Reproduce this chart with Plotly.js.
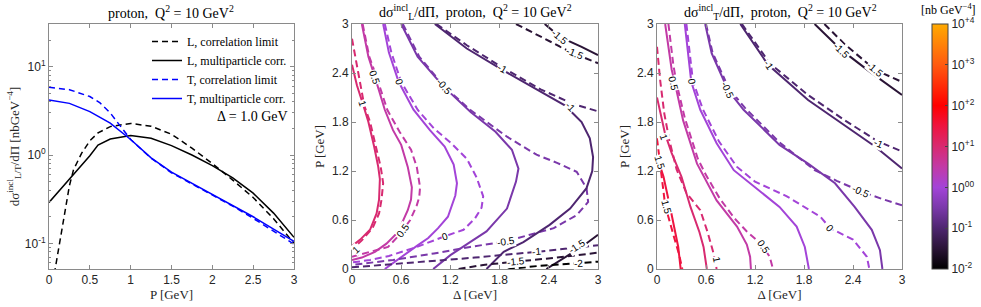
<!DOCTYPE html>
<html><head><meta charset="utf-8">
<script src="https://cdn.plot.ly/plotly-3.0.1.min.js"></script>
<style>html,body{margin:0;padding:0;background:#fff}#chart{width:981px;height:307px}</style>
</head><body><div id="chart"></div>
<script>
// ---------- Left panel data (Δ = 1.0 GeV) ----------
const P_L_multi = [0,0.25,0.5,0.6,0.75,1.0,1.25,1.5,1.75,2.0,2.25,2.5,2.75,3.0];
const L_multi   = [0.29,0.53,0.98,1.3,1.52,1.66,1.55,1.28,1.0,0.76,0.55,0.37,0.22,0.117];
const P_L_corr  = [0.065,0.1,0.15,0.2,0.25,0.3,0.4,0.5,0.6,0.75,1.0,1.25,1.5,1.75,2.0,2.25,2.5,2.75,3.0];
const L_corr    = [0.045,0.07,0.12,0.25,0.45,0.68,1.05,1.45,1.78,2.1,2.28,2.12,1.72,1.2,0.8,0.52,0.33,0.19,0.1];
const P_T_multi = [0,0.25,0.5,0.75,1.0,1.25,1.5,1.75,2.0,2.25,2.5,2.75,3.0];
const T_multi   = [4.2,3.85,3.1,2.3,1.5,0.93,0.64,0.48,0.36,0.268,0.2,0.145,0.105];
const P_T_corr  = [0,0.25,0.5,0.625,0.75,0.875,1.0,1.25,1.5,1.75,2.0,2.25,2.5,2.75,3.0];
const T_corr    = [5.85,5.5,4.6,3.9,3.0,2.1,1.5,0.92,0.63,0.47,0.355,0.264,0.192,0.138,0.098];
const legendNames = ['L, correlation limit','L, multiparticle corr.','T, correlation limit','T, multiparticle corr.'];

// ---------- Middle panel contours: [Δ values], [P values], level = log10(dσ_L/dΠ) ----------
const mL_s1_D  = [0,0.06,0.13,0.2,0.27,0.32,0.34,0.33,0.3,0.22,0.1,0];
const mL_s1_P  = [2.5,2.25,2.03,1.8,1.5,1.25,1.1,0.85,0.68,0.48,0.36,0.28];
const mL_d1_D  = [0,0.05,0.1,0.15,0.22,0.29,0.35,0.38,0.36,0.33,0.25,0.12,0];
const mL_d1_P  = [2.82,2.55,2.25,2.0,1.8,1.5,1.25,1.05,0.85,0.68,0.5,0.35,0.24];
const mL_s05_D = [0.12,0.2,0.28,0.4,0.5,0.6,0.68,0.73,0.72,0.68,0.56,0.42,0.28,0.12,0];
const mL_s05_P = [3.0,2.6,2.35,1.95,1.7,1.52,1.25,1.0,0.85,0.72,0.45,0.31,0.21,0.14,0.11];
const mL_d05_D = [0.13,0.21,0.3,0.43,0.58,0.72,0.79,0.83,0.82,0.79,0.71,0.58,0.44,0.2,0];
const mL_d05_P = [3.0,2.6,2.35,1.95,1.68,1.46,1.25,1.0,0.88,0.78,0.6,0.42,0.27,0.2,0.15];
const mL_s0_D  = [0.38,0.45,0.57,0.75,0.95,1.13,1.24,1.28,1.26,1.17,1.05,0.93,0.8,0.6,0.4];
const mL_s0_P  = [3.0,2.65,2.29,1.95,1.7,1.5,1.28,1.05,0.9,0.64,0.5,0.38,0.29,0.15,0];
const mL_d0_D  = [0.4,0.48,0.6,0.8,1.0,1.2,1.4,1.52,1.6,1.58,1.5,1.36,1.13,0.79,0.45,0.22,0];
const mL_d0_P  = [3.0,2.65,2.29,1.95,1.72,1.55,1.35,1.12,0.89,0.75,0.62,0.48,0.4,0.27,0.16,0.11,0.08];
const mL_sm05_D = [0.6,0.8,1.12,1.45,1.75,1.95,2.03,2.0,1.89,1.64,1.44,1.2,0.99];
const mL_sm05_P = [3.0,2.6,2.23,1.92,1.68,1.46,1.23,1.07,0.74,0.46,0.33,0.17,0];
const mL_dm05_D = [0.62,0.82,1.13,1.44,1.89,2.25,2.5,2.74,2.86,2.88,2.74,2.46,2.17,1.89,1.44,1.0,0.5,0];
const mL_dm05_P = [3.0,2.6,2.23,1.95,1.62,1.4,1.3,1.19,0.99,0.82,0.66,0.5,0.42,0.34,0.27,0.19,0.11,0.05];
const mL_sm1_D = [1.01,1.4,1.83,2.25,2.6,2.8,2.9,2.94,2.93,2.86,2.66,2.41,2.09,1.85,1.64];
const mL_sm1_P = [3.0,2.7,2.44,2.2,2.0,1.8,1.6,1.37,1.2,0.99,0.74,0.54,0.33,0.21,0];
const mL_dm1a_D = [1.03,1.4,1.83,2.3,2.7,3.0];
const mL_dm1a_P = [3.0,2.74,2.47,2.2,2.02,1.93];
const mL_dm1b_D = [0,0.8,1.5,2.25,3.0];
const mL_dm1b_P = [0.02,0.08,0.14,0.21,0.29];
const mL_sm15a_D = [2.35,2.54,2.8,3.0];
const mL_sm15a_P = [3.0,2.84,2.72,2.62];
const mL_dm15a_D = [2.0,2.35,2.7,3.0];
const mL_dm15a_P = [3.0,2.82,2.64,2.52];
const mL_sm15b_D = [2.37,2.6,2.8,3.0];
const mL_sm15b_P = [0,0.14,0.27,0.42];
const mL_dm15b_D = [1.3,1.6,2.0,2.5,3.0];
const mL_dm15b_P = [0,0.05,0.09,0.14,0.2];
const mL_dm2_D = [1.9,2.3,2.76,3.0];
const mL_dm2_P = [0.0,0.04,0.07,0.09];
const mL_labels_text = ['1','1','0.5','0.5','0','0','-0.5','-0.5','-1','-1','-1','-1.5','-1.5','-1.5','-1.5','-2'];
const mL_labels_D    = [0.13,0.05,0.28,0.62,0.57,1.13,1.12,1.88,1.83,2.66,2.25,2.54,2.72,2.0,2.74,2.76];
const mL_labels_P    = [2.03,0.24,2.35,0.47,2.29,0.40,2.23,0.34,2.46,1.99,0.21,2.84,2.64,0.09,0.28,0.07];

// ---------- Right panel contours (dσ_T/dΠ) ----------
const rT_s15_D = [0,0.04,0.08,0.16,0.26,0.29];
const rT_s15_P = [1.38,1.25,1.13,0.76,0.27,0];
const rT_d15_D = [0,0.05,0.1,0.2,0.27,0.31];
const rT_d15_P = [1.6,1.2,0.78,0.42,0.18,0];
const rT_s1_D  = [0,0.05,0.1,0.18,0.3,0.41,0.52,0.57,0.61];
const rT_s1_P  = [2.1,1.88,1.65,1.42,1.13,0.76,0.45,0.27,0];
const rT_d1_D  = [0,0.04,0.09,0.15,0.24,0.36,0.53,0.62,0.69,0.73];
const rT_d1_P  = [2.72,2.3,1.9,1.58,1.22,0.93,0.72,0.45,0.2,0];
const rT_s05_D = [0.1,0.18,0.22,0.32,0.49,0.73,0.98,1.1,1.14,1.15];
const rT_s05_P = [3.0,2.44,2.27,1.82,1.29,0.84,0.52,0.3,0.15,0];
const rT_d05_D = [0.14,0.2,0.24,0.34,0.5,0.6,0.77,0.95,1.1,1.28,1.38,1.42];
const rT_d05_P = [3.0,2.5,2.27,1.85,1.35,1.15,0.86,0.62,0.46,0.3,0.15,0];
const rT_s0_D  = [0.34,0.42,0.53,0.73,0.94,1.14,1.5,1.71,1.81,1.86];
const rT_s0_P  = [3.0,2.29,1.95,1.54,1.21,1.05,0.76,0.52,0.27,0];
const rT_d0_D  = [0.36,0.44,0.56,0.76,0.98,1.2,1.59,2.0,2.12,2.4,2.57,2.6];
const rT_d0_P  = [3.0,2.3,1.96,1.56,1.25,1.07,0.89,0.64,0.5,0.36,0.15,0];
const rT_sm05_D = [0.59,0.67,0.87,1.06,1.5,1.85,2.18,2.42,2.63,2.73,2.76];
const rT_sm05_P = [3.0,2.64,2.19,1.95,1.52,1.29,1.05,0.76,0.48,0.23,0];
const rT_dm05_D = [0.6,0.68,0.88,1.08,1.5,1.93,2.2,2.5,2.75,3.0];
const rT_dm05_P = [3.0,2.65,2.21,1.97,1.55,1.21,1.08,0.95,0.86,0.78];
const rT_sm1_D = [1.02,1.36,1.85,2.26,2.67,3.0];
const rT_sm1_P = [3.0,2.5,2.07,1.78,1.5,1.23];
const rT_dm1_D = [1.04,1.38,1.85,2.3,2.71,3.0];
const rT_dm1_P = [3.0,2.52,2.13,1.82,1.56,1.44];
const rT_sm15_D = [1.93,2.26,2.6,3.0];
const rT_sm15_P = [3.0,2.68,2.42,2.13];
const rT_dm15_D = [2.05,2.3,2.67,3.0];
const rT_dm15_P = [3.0,2.75,2.44,2.29];
const rT_labels_text = ['1.5','1.5','1','1','0.5','0.5','0','0','-0.5','-0.5','-1','-1','-1.5','-1.5'];
const rT_labels_D    = [0.03,0.11,0.08,0.74,0.2,1.3,0.42,2.12,0.87,2.5,1.36,2.71,2.26,2.67];
const rT_labels_P    = [1.3,0.76,1.62,0.11,2.27,0.27,2.29,0.5,2.19,0.95,2.5,1.54,2.68,2.44];

// colour bar
const cbTickVals = [-2,-1,0,1,2,3,4];
const cbTickText = ['10<sup>-2</sup>','10<sup>-1</sup>','10<sup>00</sup>','10<sup>+1</sup>','10<sup>+2</sup>','10<sup>+3</sup>','10<sup>+4</sup>'];

// ---------- styling ----------
const CMIN = -2, CMAX = 4;
const cscale = [[0,'#000000'],[0.083,'#2a1436'],[0.167,'#4e2670'],[0.25,'#7a38aa'],[0.333,'#a344d8'],
  [0.417,'#c23aa6'],[0.5,'#d82a70'],[0.583,'#ee1440'],[0.667,'#ff0000'],[0.833,'#ff5a10'],[1,'#ffaa00']];
function hex2rgb(h){return [parseInt(h.slice(1,3),16),parseInt(h.slice(3,5),16),parseInt(h.slice(5,7),16)];}
function levelColor(v){
  const f=(v-CMIN)/(CMAX-CMIN);
  for(let i=0;i<cscale.length-1;i++){
    const a=cscale[i],b=cscale[i+1];
    if(f>=a[0]&&f<=b[0]){const t=(f-a[0])/(b[0]-a[0]);const ca=hex2rgb(a[1]),cb=hex2rgb(b[1]);
      return 'rgb('+ca.map((c,k)=>Math.round(c+(cb[k]-c)*t)).join(',')+')';}
  }
  return cscale[cscale.length-1][1];
}
const SANS='Liberation Sans, Arial, sans-serif', SERIF='Liberation Serif, Times New Roman, serif';
const AXC='#8a8a8a', TXC='#262626';
const W=981,H=307;
const yDom=[1-269/H,1-24/H];
const traces=[];
const annotations=[];

// left panel
traces.push({x:P_L_corr,y:L_corr,name:legendNames[0],mode:'lines',line:{color:'#000',width:1.5,dash:'6px,4px'},xaxis:'x',yaxis:'y'});
traces.push({x:P_L_multi,y:L_multi,name:legendNames[1],mode:'lines',line:{color:'#000',width:1.5},xaxis:'x',yaxis:'y'});
traces.push({x:P_T_corr,y:T_corr,name:legendNames[2],mode:'lines',line:{color:'#0000ff',width:1.5,dash:'6px,4px'},xaxis:'x',yaxis:'y'});
traces.push({x:P_T_multi,y:T_multi,name:legendNames[3],mode:'lines',line:{color:'#0000ff',width:1.5},xaxis:'x',yaxis:'y'});

// contour lines
const midLines=[
 [mL_s1_D,mL_s1_P,1,0],[mL_d1_D,mL_d1_P,1,1],[mL_s05_D,mL_s05_P,0.5,0],[mL_d05_D,mL_d05_P,0.5,1],
 [mL_s0_D,mL_s0_P,0,0],[mL_d0_D,mL_d0_P,0,1],[mL_sm05_D,mL_sm05_P,-0.5,0],[mL_dm05_D,mL_dm05_P,-0.5,1],
 [mL_sm1_D,mL_sm1_P,-1,0],[mL_dm1a_D,mL_dm1a_P,-1,1],[mL_dm1b_D,mL_dm1b_P,-1,1],
 [mL_sm15a_D,mL_sm15a_P,-1.5,0],[mL_dm15a_D,mL_dm15a_P,-1.5,1],[mL_sm15b_D,mL_sm15b_P,-1.5,0],
 [mL_dm15b_D,mL_dm15b_P,-1.5,1],[mL_dm2_D,mL_dm2_P,-2,1]];
const rightLines=[
 [rT_s15_D,rT_s15_P,1.5,0],[rT_d15_D,rT_d15_P,1.5,1],[rT_s1_D,rT_s1_P,1,0],[rT_d1_D,rT_d1_P,1,1],
 [rT_s05_D,rT_s05_P,0.5,0],[rT_d05_D,rT_d05_P,0.5,1],[rT_s0_D,rT_s0_P,0,0],[rT_d0_D,rT_d0_P,0,1],
 [rT_sm05_D,rT_sm05_P,-0.5,0],[rT_dm05_D,rT_dm05_P,-0.5,1],[rT_sm1_D,rT_sm1_P,-1,0],[rT_dm1_D,rT_dm1_P,-1,1],
 [rT_sm15_D,rT_sm15_P,-1.5,0],[rT_dm15_D,rT_dm15_P,-1.5,1]];
function addLines(lines,xa,ya){
  lines.forEach(l=>{
    traces.push({x:l[0],y:l[1],mode:'lines',xaxis:xa,yaxis:ya,showlegend:false,hoverinfo:'skip',
      line:{color:levelColor(l[2]),width:2,dash:l[3]?'7px,4px':'solid'}});
  });
}
addLines(midLines,'x2','y2');
addLines(rightLines,'x3','y3');

function addLabels(texts,Ds,Ps,lines,xr,yr){
  texts.forEach((t,i)=>{
    const lv=parseFloat(t), x=Ds[i], y=Ps[i];
    let best=1e9, ang=0;
    lines.filter(l=>l[2]===lv).forEach(l=>{
      for(let k=0;k<l[0].length-1;k++){
        const x1=l[0][k],y1=l[1][k],x2=l[0][k+1],y2=l[1][k+1];
        const dx=x2-x1,dy=y2-y1,L2=dx*dx+dy*dy||1e-9;
        let u=((x-x1)*dx+(y-y1)*dy)/L2; u=Math.max(0,Math.min(1,u));
        const px=x1+u*dx-x, py=y1+u*dy-y, d=px*px+py*py;
        if(d<best){best=d; ang=Math.atan2(-dy,dx)*180/Math.PI;}
      }
    });
    if(ang>90)ang-=180; if(ang<-90)ang+=180;
    annotations.push({x:x,y:y,xref:xr,yref:yr,text:t,showarrow:false,textangle:ang,
      xanchor:'center',yanchor:'middle',
      font:{family:SANS,size:10,color:'#000'},bgcolor:'#fff',borderpad:0});
  });
}
addLabels(mL_labels_text,mL_labels_D,mL_labels_P,midLines,'x2','y2');
addLabels(rT_labels_text,rT_labels_D,rT_labels_P,rightLines,'x3','y3');

// colour bar carrier
traces.push({x:[-10],y:[-10],xaxis:'x3',yaxis:'y3',mode:'markers',showlegend:false,hoverinfo:'skip',
  marker:{size:1,color:[0],cmin:CMIN,cmax:CMAX,colorscale:cscale,showscale:true,
    colorbar:{x:932/W,xanchor:'left',xref:'paper',y:(yDom[0]+yDom[1])/2,yanchor:'middle',
      len:245/H,lenmode:'fraction',thickness:16,thicknessmode:'pixels',xpad:0,ypad:0,
      outlinewidth:1,outlinecolor:'#444',tickmode:'array',tickvals:cbTickVals,ticktext:cbTickText,
      ticks:'inside',ticklen:3,tickcolor:'#444',tickfont:{family:SANS,size:12,color:TXC}}}});

function linAxis(dom,tv,tt,anchor){
  return {domain:dom,range:[0,3],tickmode:'array',tickvals:tv,ticktext:tt,ticks:'inside',ticklen:4,
    tickcolor:AXC,showline:true,linecolor:AXC,linewidth:1,mirror:'ticks',showgrid:false,zeroline:false,
    anchor:anchor,tickfont:{family:SANS,size:12,color:TXC},fixedrange:true};
}
const t6=[0,0.6,1.2,1.8,2.4,3], t6t=['0','0.6','1.2','1.8','2.4','3'];
const t5=[0,0.5,1,1.5,2,2.5,3], t5t=['0','0.5','1','1.5','2','2.5','3'];
const xa1=linAxis([49/W,294/W],t5,t5t,'y'); xa1.title={text:'P [GeV]',font:{family:SERIF,size:13,color:TXC},standoff:2};
const xa2=linAxis([352/W,598/W],t6,t6t,'y2'); xa2.title={text:'Δ [GeV]',font:{family:SERIF,size:13,color:TXC},standoff:2};
const xa3=linAxis([657/W,902/W],t6,t6t,'y3'); xa3.title={text:'Δ [GeV]',font:{family:SERIF,size:13,color:TXC},standoff:2};
const ya2=linAxis(yDom,t6,t6t,'x2'); ya2.title={text:'P [GeV]',font:{family:SERIF,size:13,color:TXC},standoff:4};
const ya3=linAxis(yDom,t6,t6t,'x3'); ya3.title={text:'P [GeV]',font:{family:SERIF,size:13,color:TXC},standoff:4};
const ya1={domain:yDom,type:'log',range:[Math.log10(0.0512),Math.log10(30.5)],tickmode:'array',
  tickvals:[0.1,1,10],ticktext:['10<sup>-1</sup>','10<sup>0</sup>','10<sup>1</sup>'],ticks:'inside',ticklen:4,
  tickcolor:AXC,showline:true,linecolor:AXC,linewidth:1,mirror:'ticks',showgrid:false,zeroline:false,anchor:'x',
  tickfont:{family:SANS,size:12,color:TXC},
  minor:{tickmode:'array',tickvals:[0.06,0.07,0.08,0.09,0.2,0.3,0.4,0.5,0.6,0.7,0.8,0.9,2,3,4,5,6,7,8,9,20,30],ticks:'inside',ticklen:2,tickcolor:AXC,showgrid:false},
  title:{text:'dσ<sup>incl</sup><sub>L/T</sub>/dΠ [nbGeV<sup>−4</sup>]',font:{family:SERIF,size:13,color:TXC},standoff:2}};

const tfont={family:SERIF,size:14,color:'#000'};
function pAnn(x,y,text,font,xa){annotations.push({xref:'paper',yref:'paper',x:x/W,y:1-y/H,text:text,showarrow:false,
  xanchor:xa||'center',yanchor:'middle',font:font});}
pAnn(171,12,'proton,  Q<sup>2</sup> = 10 GeV<sup>2</sup>',tfont);
pAnn(475,12,'dσ<sup>incl</sup><sub>L</sub>/dΠ,  proton,  Q<sup>2</sup> = 10 GeV<sup>2</sup>',tfont);
pAnn(780,12,'dσ<sup>incl</sup><sub>T</sub>/dΠ,  proton,  Q<sup>2</sup> = 10 GeV<sup>2</sup>',tfont);
pAnn(948,9,'[nb GeV<sup>−4</sup>]',{family:SERIF,size:12,color:'#000'});
pAnn(290,117,'Δ = 1.0 GeV',{family:SERIF,size:14,color:'#000'},'right');

const layout={width:W,height:H,margin:{l:0,r:0,t:0,b:0},paper_bgcolor:'#fff',plot_bgcolor:'#fff',
  showlegend:true,
  legend:{x:292/W,xanchor:'right',y:1-27/H,yanchor:'top',bgcolor:'rgba(0,0,0,0)',borderwidth:0,
    font:{family:SERIF,size:12,color:'#000'},tracegroupgap:0,itemwidth:30},
  xaxis:xa1,yaxis:ya1,xaxis2:xa2,yaxis2:ya2,xaxis3:xa3,yaxis3:ya3,annotations:annotations};
Plotly.newPlot('chart',traces,layout,{staticPlot:true,displayModeBar:false});
</script></body></html>
